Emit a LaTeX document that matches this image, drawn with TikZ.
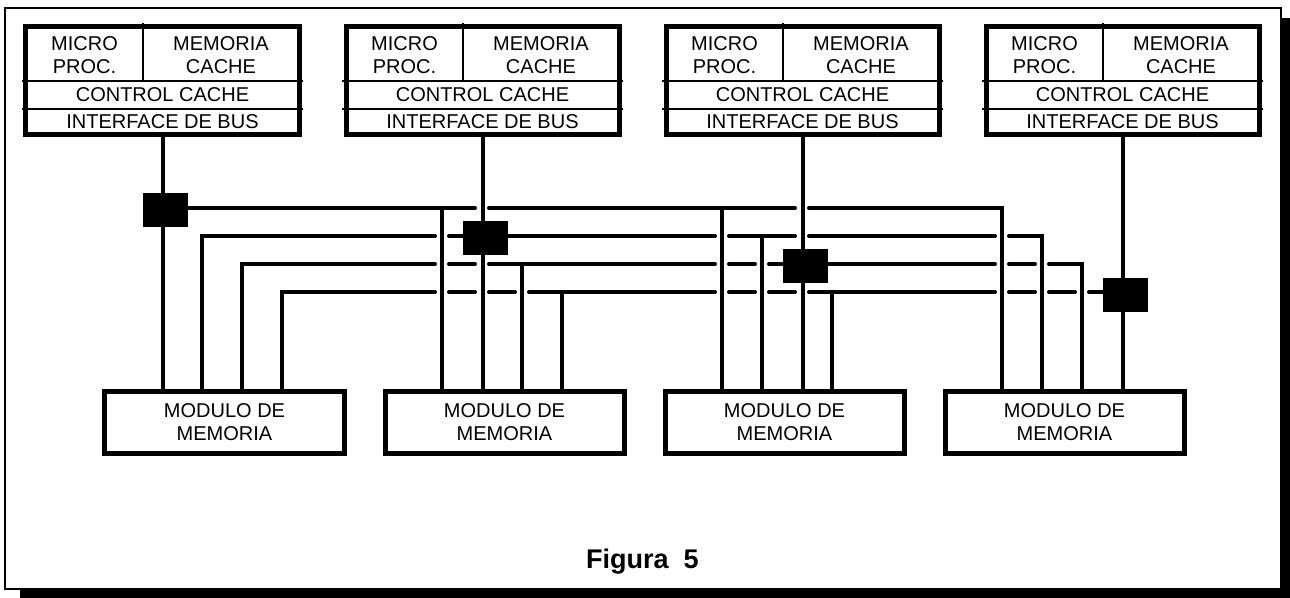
\documentclass[tikz,border=0pt]{standalone}
\usepackage{fontspec}
\setmainfont{Liberation Sans}
\begin{document}
\begin{tikzpicture}[x=1bp,y=-1bp,
  txt/.style={font=\fontsize{20bp}{23bp}\selectfont, align=center, inner sep=0pt},
  cpubox/.style={draw, line width=5bp, minimum width=273bp, minimum height=108bp, inner sep=0pt},
  modbox/.style={draw, line width=5bp, minimum width=239bp, minimum height=62bp, inner sep=0pt, txt},
  div/.style={line width=2bp},
  vl/.style={line width=4bp},
  bus/.style={line width=4bp, line cap=round, line join=miter},
  switchbox/.style={fill=black, minimum width=45bp, minimum height=34bp, inner sep=0pt},
]
\useasboundingbox (0,0) rectangle (1290,598);
% frame with shadow
\fill (1282,18) rectangle (1290,598);
\fill (20,589) rectangle (1290,598);
\draw[line width=2bp] (5,8) rectangle (1281,589);

% processors and memory modules
\foreach \i in {1,...,4} {
  \pgfmathsetmacro\L{26+320*(\i-1)}
  \node[cpubox] (cpu\i) at (\L+136.5,81) {};
  \draw[div] (\L+117,23) -- (\L+117,81);
  \draw[div] (\L-4,81) -- (\L+277,81);
  \draw[div] (\L-4,109) -- (\L+277,109);
  \node[txt] (mp\i) at (\L+58.5,55) {MICRO\\PROC.};
  \node[txt] (mc\i) at (\L+195,55) {MEMORIA\\CACHE};
  \node[txt] (cc\i) at (\L+136.5,95) {CONTROL CACHE};
  \node[txt] (ib\i) at (\L+136.5,122) {INTERFACE DE BUS};
  \pgfmathsetmacro\M{105+280*(\i-1)}
  \node[modbox] (mod\i) at (\M+119.5,422) {MODULO DE\\MEMORIA};
}

% processor lines
\foreach \i in {1,...,4} {
  \draw[vl] (cpu\i.south) -- (cpu\i.south |- mod\i.north);
}

% bus 1
\draw[bus] (162.5,208) -- (475,208);
\draw[bus] (489,208) -- (795,208);
\draw[bus] (809,208) -- (1002,208) -- (1002,391);
\draw[vl] (442,208) -- (442,391);
\draw[vl] (722,208) -- (722,391);

% bus 2
\draw[bus] (202,391) -- (202,236) -- (435,236);
\draw[bus] (449,236) -- (715,236);
\draw[bus] (729,236) -- (795,236);
\draw[bus] (809,236) -- (995,236);
\draw[bus] (1009,236) -- (1042,236) -- (1042,391);
\draw[vl] (762,236) -- (762,391);

% bus 3
\draw[bus] (242,391) -- (242,264) -- (435,264);
\draw[bus] (449,264) -- (475,264);
\draw[bus] (489,264) -- (715,264);
\draw[bus] (729,264) -- (755,264);
\draw[bus] (769,264) -- (995,264);
\draw[bus] (1009,264) -- (1035,264);
\draw[bus] (1049,264) -- (1082,264) -- (1082,391);
\draw[vl] (522,264) -- (522,391);

% bus 4
\draw[bus] (282,391) -- (282,292) -- (435,292);
\draw[bus] (449,292) -- (475,292);
\draw[bus] (489,292) -- (515,292);
\draw[bus] (529,292) -- (715,292);
\draw[bus] (729,292) -- (755,292);
\draw[bus] (769,292) -- (795,292);
\draw[bus] (809,292) -- (995,292);
\draw[bus] (1009,292) -- (1035,292);
\draw[bus] (1049,292) -- (1075,292);
\draw[bus] (1089,292) -- (1122.5,292);
\draw[vl] (562,292) -- (562,391);
\draw[vl] (832,292) -- (832,391);

% switches
\node[switchbox] (sw1) at (165.5,210) {};
\node[switchbox] (sw2) at (485.5,238) {};
\node[switchbox] (sw3) at (805.5,266) {};
\node[switchbox] (sw4) at (1125.5,295) {};

\node[font=\fontsize{27bp}{30bp}\selectfont\bfseries, inner sep=0pt] (fig) at (642.5,562) {Figura\ \ 5};
\end{tikzpicture}
\end{document}
